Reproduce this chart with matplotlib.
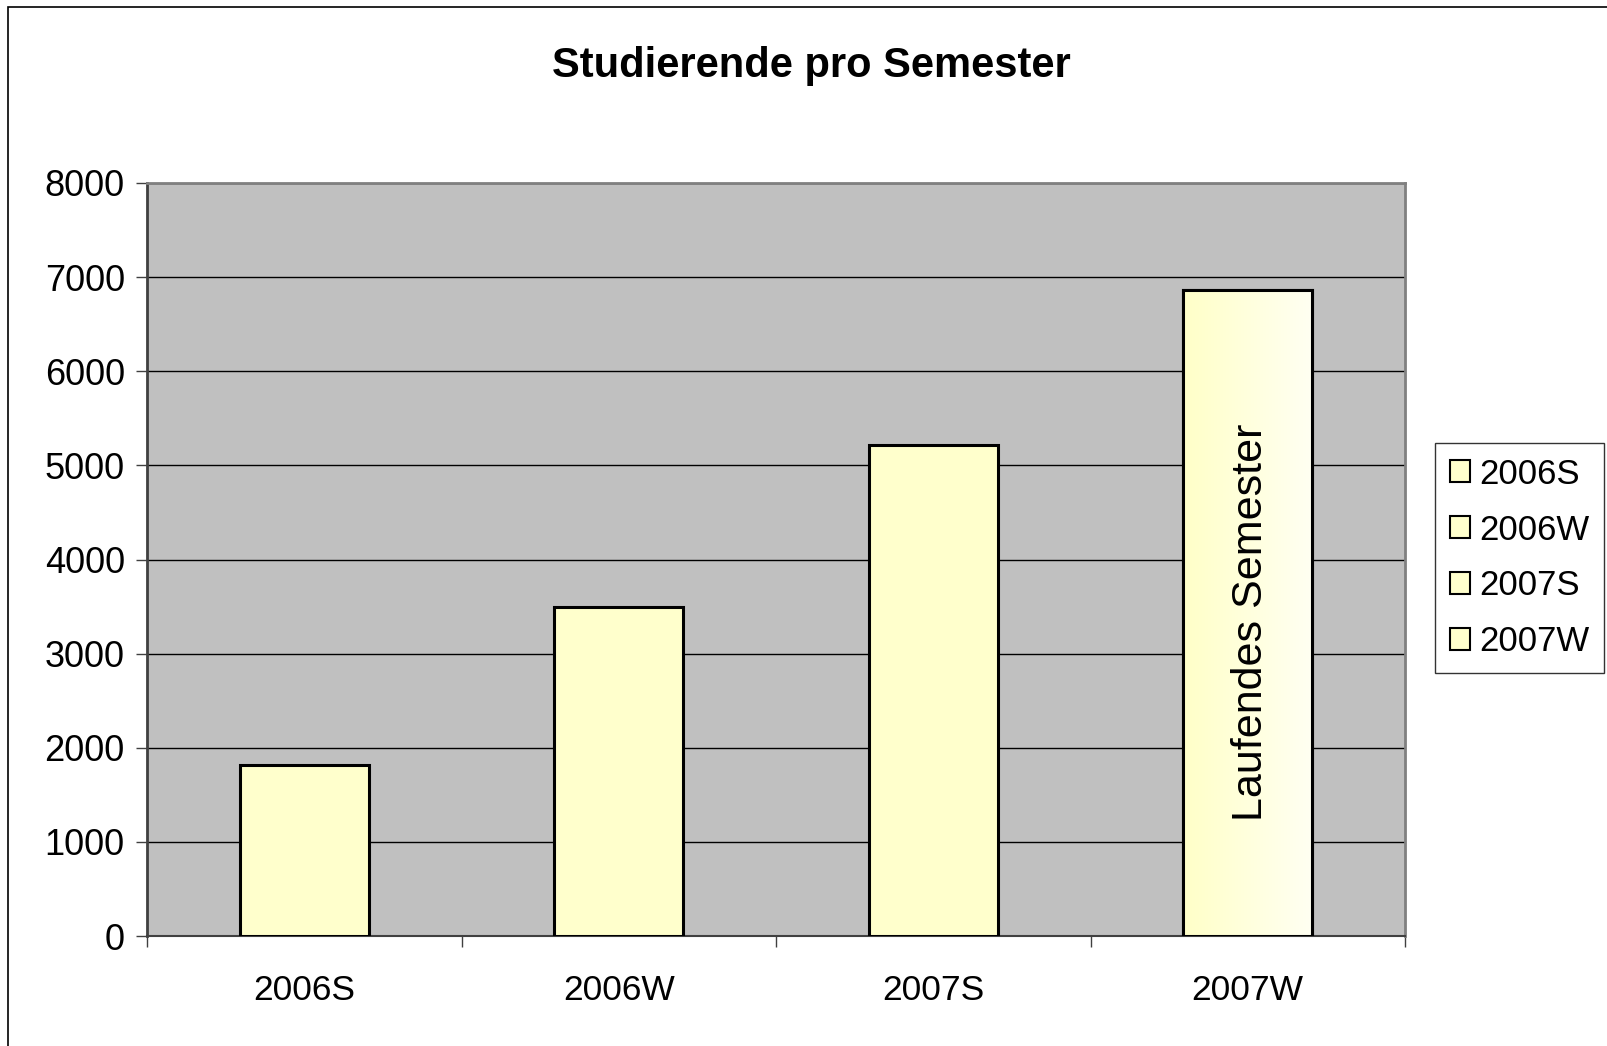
import matplotlib
matplotlib.use("Agg")
import matplotlib.pyplot as plt
import numpy as np
from matplotlib.patches import Rectangle
from matplotlib.colors import LinearSegmentedColormap

plt.rcParams['font.family'] = ['Liberation Sans', 'DejaVu Sans']

categories = ["2006S", "2006W", "2007S", "2007W"]
values = [1820, 3500, 5220, 6860]
yticks = [0, 1000, 2000, 3000, 4000, 5000, 6000, 7000, 8000]
title = "Studierende pro Semester"
bar_note = "Laufendes Semester"

W, H = 1607, 1046
fig = plt.figure(figsize=(W / 100, H / 100), dpi=100)
fig.patch.set_facecolor("white")

# outer frame
fig.add_artist(Rectangle((8 / W, -0.01), 1.1, 1 - 7 / H + 0.01, transform=fig.transFigure,
                         fill=False, edgecolor="black", linewidth=1.2))

left, right, top, bottom = 147, 1405, 183, 936
ax = fig.add_axes([left / W, 1 - bottom / H, (right - left) / W, (bottom - top) / H])
ax.set_facecolor("#C0C0C0")

x = np.arange(len(categories))
bars = ax.bar(x, values, width=0.41, color="#FFFFCC", edgecolor="black", linewidth=2.2, zorder=3)

# gradient on last bar
last = bars[-1]
grad = np.linspace(0, 1, 256).reshape(1, -1)
cmap = LinearSegmentedColormap.from_list("g", ["#FFFFC8", "#FFFFF2"])
bx, bw = last.get_x(), last.get_width()
im = ax.imshow(grad, cmap=cmap, aspect="auto", extent=(bx, bx + bw, 0, values[-1]), zorder=3.5)
im.set_clip_path(last)
ax.bar([x[-1]], [values[-1]], width=0.41, facecolor="none", edgecolor="black", linewidth=2.2, zorder=4)

ax.text(x[-1] + 0.01, values[-1] * 0.486, bar_note, rotation=90, ha="center", va="center",
        fontsize=31, zorder=5)

ax.set_xlim(-0.5, len(categories) - 0.5)
ax.set_ylim(0, 8000)
ax.set_yticks(yticks)
ax.set_yticklabels([str(v) for v in yticks], fontsize=26)
ax.yaxis.grid(True, color="black", linewidth=1.0, zorder=1)
ax.set_axisbelow(True)
ax.set_xticks(np.arange(-0.5, len(categories), 1.0))
ax.set_xticklabels([])
ax.set_xticks(x, minor=True)
ax.set_xticklabels(categories, minor=True, fontsize=25.5)
ax.tick_params(axis="x", which="minor", length=0, pad=27)
ax.tick_params(axis="x", which="major", length=8, width=1, direction="out", color="#404040")
ax.tick_params(axis="y", length=8, width=1, direction="out", color="#404040", pad=8)

ax.spines["left"].set_color("#404040")
ax.spines["left"].set_linewidth(2)
ax.spines["bottom"].set_color("#404040")
ax.spines["bottom"].set_linewidth(1.5)
ax.spines["top"].set_color("#808080")
ax.spines["top"].set_linewidth(2)
ax.spines["right"].set_color("#808080")
ax.spines["right"].set_linewidth(2)

fig.text(811 / W, 1 - 66 / H, title, ha="center", va="center",
         fontsize=30, fontweight="bold")

handles = [Rectangle((0, 0), 1, 1, facecolor="#FFFFCC", edgecolor="black", linewidth=1.5)
           for _ in categories]
leg = fig.legend(handles, categories, loc="upper left",
                 bbox_to_anchor=(1435 / W, 1 - 443 / H), fontsize=25,
                 frameon=True, fancybox=False, edgecolor="black",
                 handlelength=0.6, handleheight=0.6, handletextpad=0.25,
                 labelspacing=0.66, borderpad=0.42, borderaxespad=0)
leg.get_frame().set_linewidth(1.0)

fig.savefig("out.png", dpi=100)
